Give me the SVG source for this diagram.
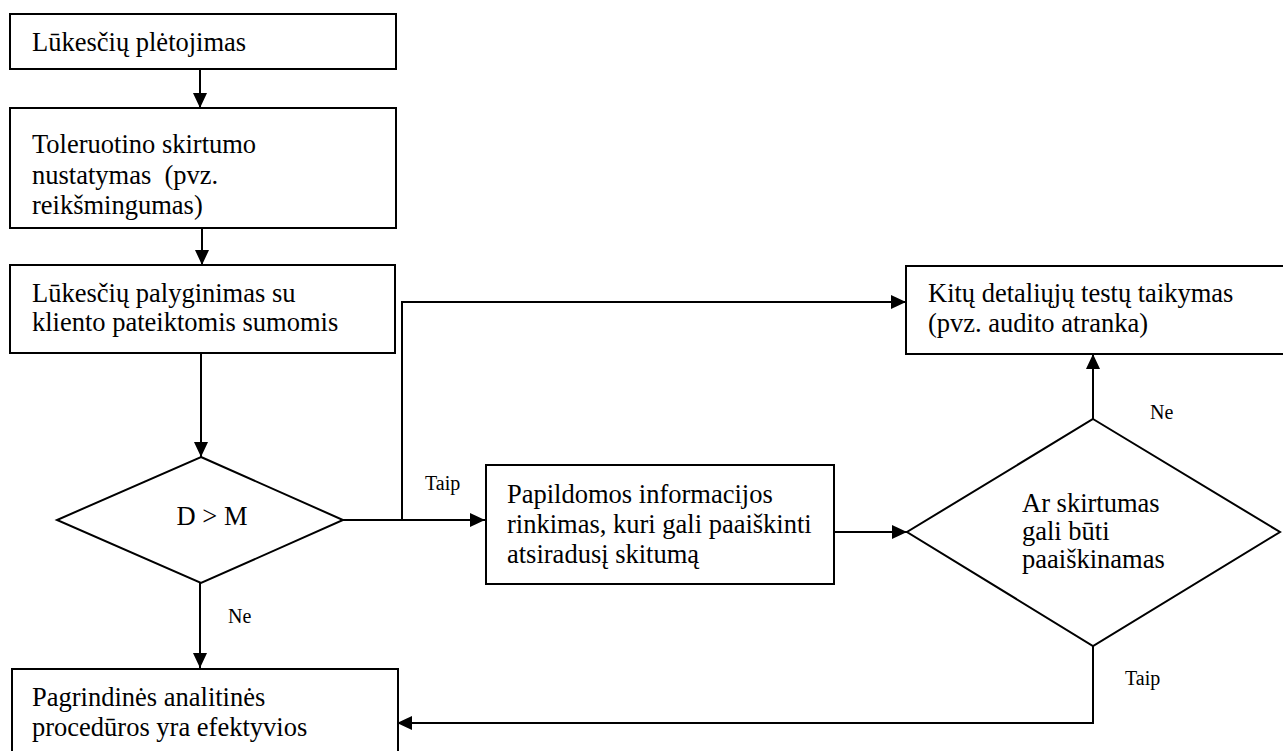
<svg xmlns="http://www.w3.org/2000/svg" width="1283" height="751" viewBox="0 0 1283 751">
<style>
.box{fill:#fff;stroke:#000;stroke-width:2}
.t{font-family:"Liberation Serif","Times New Roman",serif;font-size:26.5px;fill:#000}
.l{font-family:"Liberation Serif","Times New Roman",serif;font-size:20px;fill:#000}
.c{fill:none;stroke:#000;stroke-width:2}
</style>
<defs>
<marker id="ah" markerUnits="userSpaceOnUse" markerWidth="16" markerHeight="14" refX="15" refY="7" orient="auto">
<path d="M0,0 L15,7 L0,14 z" fill="#000"/>
</marker>
</defs>
<rect width="1283" height="751" fill="#fff"/>
<g id="connectors">
<line class="c" x1="200" y1="69" x2="200" y2="108" marker-end="url(#ah)"/>
<line class="c" x1="202" y1="228" x2="202" y2="265" marker-end="url(#ah)"/>
<line class="c" x1="201" y1="353" x2="201" y2="457" marker-end="url(#ah)"/>
<line class="c" x1="200" y1="583" x2="200" y2="668" marker-end="url(#ah)"/>
<line class="c" x1="343" y1="520" x2="485" y2="520" marker-end="url(#ah)"/>
<polyline class="c" points="402,520 402,302 906,302" marker-end="url(#ah)"/>
<line class="c" x1="834" y1="532" x2="907" y2="532" marker-end="url(#ah)"/>
<line class="c" x1="1093" y1="419" x2="1093" y2="354" marker-end="url(#ah)"/>
<polyline class="c" points="1093,646 1093,723 397,723" marker-end="url(#ah)"/>
<text class="l" x="425" y="490">Taip</text>
<text class="l" x="228" y="623">Ne</text>
<text class="l" x="1150" y="419">Ne</text>
<text class="l" x="1125" y="685">Taip</text>
</g>
<g id="n1">
<rect class="box" x="10" y="14" width="386" height="55"/>
<text class="t" x="32" y="51">Lūkesčių plėtojimas</text>
</g>
<g id="n2">
<rect class="box" x="10" y="108" width="386" height="120"/>
<text class="t" x="32" y="153">Toleruotino skirtumo</text>
<text class="t" x="32" y="184" xml:space="preserve">nustatymas  (pvz.</text>
<text class="t" x="32" y="214">reikšmingumas)</text>
</g>
<g id="n3">
<rect class="box" x="10" y="265" width="385" height="88"/>
<text class="t" x="32" y="302">Lūkesčių palyginimas su</text>
<text class="t" x="32" y="331">kliento pateiktomis sumomis</text>
</g>
<g id="d1">
<polygon class="box" points="201,457 343,520 201,583 57,520"/>
<text class="t" x="212" y="525" text-anchor="middle">D &gt; M</text>
</g>
<g id="n4">
<rect class="box" x="486" y="465" width="348" height="119"/>
<text class="t" x="507" y="503">Papildomos informacijos</text>
<text class="t" x="507" y="533">rinkimas, kuri gali paaiškinti</text>
<text class="t" x="507" y="563">atsiradusį skitumą</text>
</g>
<g id="d2">
<polygon class="box" points="1093,419 1280,532 1093,646 907,532"/>
<text class="t" x="1022" y="512">Ar skirtumas</text>
<text class="t" x="1022" y="540">gali būti</text>
<text class="t" x="1022" y="568">paaiškinamas</text>
</g>
<g id="n5">
<rect class="box" x="906" y="266" width="390" height="88"/>
<text class="t" x="928" y="302">Kitų detaliųjų testų taikymas</text>
<text class="t" x="928" y="332">(pvz. audito atranka)</text>
</g>
<g id="n6">
<rect class="box" x="12" y="669" width="386" height="100"/>
<text class="t" x="32" y="706">Pagrindinės analitinės</text>
<text class="t" x="32" y="736">procedūros yra efektyvios</text>
</g>
</svg>
